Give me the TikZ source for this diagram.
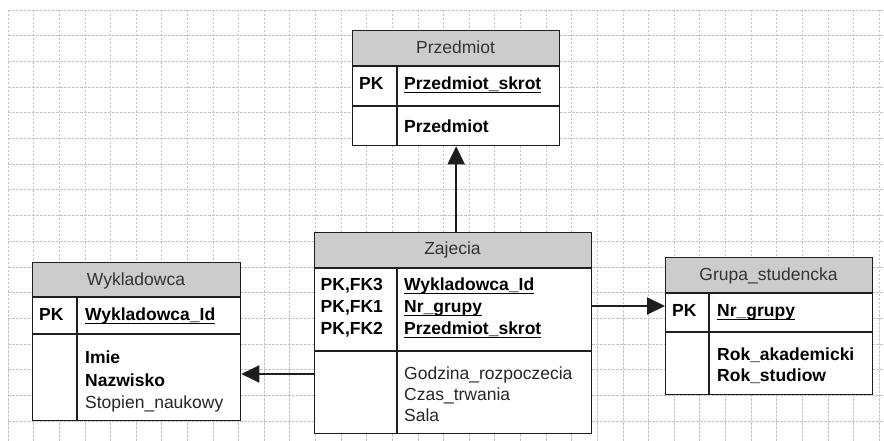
\documentclass[tikz,border=0pt]{standalone}
\usepackage{fontspec}
\setmainfont{Liberation Sans}
\usetikzlibrary{arrows.meta}
\definecolor{hdrfill}{HTML}{CCCCCC}
\definecolor{hdrtext}{HTML}{333333}
\definecolor{gridc}{HTML}{C4C4C4}
\definecolor{linec}{HTML}{1E1E1E}
\newcommand{\pkul}[1]{\setbox0=\hbox{#1}\rlap{\rule[-2.8bp]{\wd0}{1.2bp}}\box0}
\tikzset{
  gridl/.style={draw=gridc, line width=0.7bp, dash pattern=on 2.5bp off 1.5bp},
  hdr/.style={fill=hdrfill},
  boxline/.style={draw=linec, line width=1.3bp},
  entbox/.style={draw=linec, line width=1.3bp, inner sep=0pt, anchor=north west},
  hdrtxt/.style={anchor=base, inner sep=0pt, text=hdrtext, font=\fontsize{17.5bp}{21bp}\selectfont},
  fldb/.style={anchor=base west, inner sep=0pt, text=black, font=\fontsize{17.5bp}{21bp}\selectfont\bfseries},
  fldr/.style={anchor=base west, inner sep=0pt, text=black!85, font=\fontsize{17.5bp}{21bp}\selectfont},
  arr/.style={draw=linec, line width=2bp, -{Triangle[length=18bp,width=17bp]}}
}
\begin{document}
\begin{tikzpicture}[x=1bp,y=-1bp]
\useasboundingbox[fill=white] (0,0) rectangle (884,441);
% grid
\foreach \i in {0,...,34} \draw[gridl] (8+\i*25.62,10) -- (8+\i*25.62,441);
\foreach \j in {0,...,16} \draw[gridl] (8,10+\j*25.69) -- (884,10+\j*25.69);

% ---------- Przedmiot ----------
\fill[white] (352,30) rectangle (559,145);
\fill[hdr] (352,30) rectangle (559,66);
\draw[boxline] (352,66) -- (559,66) (352,106) -- (559,106) (397,66) -- (397,145);
\node[entbox, minimum width=207bp, minimum height=115bp] (prz) at (352,30) {};
\node[hdrtxt] (przh) at (455.5,54) {Przedmiot};
\node[fldb] (przpk) at (359,90) {PK};
\node[fldb] (przf1) at (404,90) {\pkul{Przedmiot\_skrot}};
\node[fldb] (przf2) at (404,132.5) {Przedmiot};

% ---------- Wykladowca ----------
\fill[white] (32,262) rectangle (240,420);
\fill[hdr] (32,262) rectangle (240,297);
\draw[boxline] (32,297) -- (240,297) (32,334) -- (240,334) (77,297) -- (77,420);
\node[entbox, minimum width=208bp, minimum height=158bp] (wyk) at (32,262) {};
\node[hdrtxt] (wykh) at (136,285.5) {Wykladowca};
\node[fldb] (wykpk) at (39,321) {PK};
\node[fldb] (wykf1) at (85,321) {\pkul{Wykladowca\_Id}};
\node[fldb] (wykf2) at (85,364) {Imie};
\node[fldb] (wykf3) at (85,386.5) {Nazwisko};
\node[fldr] (wykf4) at (85,408.5) {Stopien\_naukowy};

% ---------- Zajecia ----------
\fill[white] (314,232) rectangle (591,433);
\fill[hdr] (314,232) rectangle (591,268);
\draw[boxline] (314,268) -- (591,268) (314,351) -- (591,351) (397,268) -- (397,433);
\node[entbox, minimum width=277bp, minimum height=201bp] (zaj) at (314,232) {};
\node[hdrtxt] (zajh) at (452.5,254.5) {Zajecia};
\node[fldb] (zajk1) at (320.5,291) {PK,FK3};
\node[fldb] (zajk2) at (320.5,313) {PK,FK1};
\node[fldb] (zajk3) at (320.5,335) {PK,FK2};
\node[fldb] (zajf1) at (404,291) {\pkul{Wykladowca\_Id}};
\node[fldb] (zajf2) at (404,313) {\pkul{Nr\_grupy}};
\node[fldb] (zajf3) at (404,335) {\pkul{Przedmiot\_skrot}};
\node[fldr] (zajf4) at (404,379.5) {Godzina\_rozpoczecia};
\node[fldr] (zajf5) at (404,400.5) {Czas\_trwania};
\node[fldr] (zajf6) at (404,421.5) {Sala};

% ---------- Grupa_studencka ----------
\fill[white] (665,257) rectangle (872,394);
\fill[hdr] (665,257) rectangle (872,293);
\draw[boxline] (665,293) -- (872,293) (665,332) -- (872,332) (709,293) -- (709,394);
\node[entbox, minimum width=207bp, minimum height=137bp] (grp) at (665,257) {};
\node[hdrtxt] (grph) at (768.5,281) {Grupa\_studencka};
\node[fldb] (grppk) at (672,317) {PK};
\node[fldb] (grpf1) at (717,317) {\pkul{Nr\_grupy}};
\node[fldb] (grpf2) at (717,361) {Rok\_akademicki};
\node[fldb] (grpf3) at (717,382) {Rok\_studiow};

% ---------- connectors ----------
\draw[arr] (prz.south |- zaj.north) -- (prz.south);
\draw[arr] (zaj.west |- 0,374) -- (wyk.east |- 0,374);
\draw[arr] (zaj.east |- 0,306) -- (grp.west |- 0,306);
\end{tikzpicture}
\end{document}
